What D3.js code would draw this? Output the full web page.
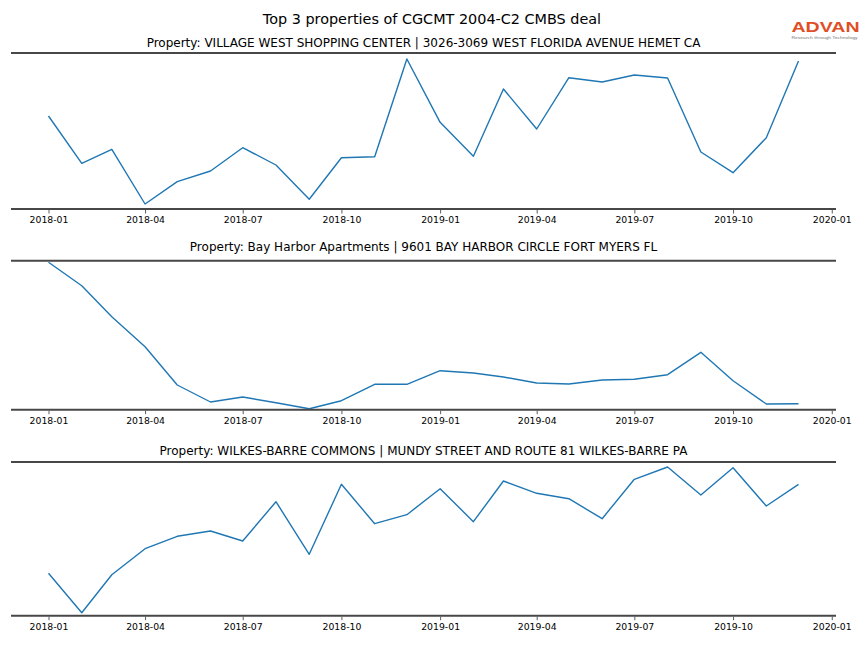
<!DOCTYPE html>
<html>
<head>
<meta charset="utf-8">
<script src="https://cdn.jsdelivr.net/npm/d3@7"></script>
<style>
  html, body { margin: 0; padding: 0; background: #fff; }
  svg { display: block; font-family: "DejaVu Sans", sans-serif; }
</style>
</head>
<body>
<svg id="chart" width="864" height="648"></svg>
<script>
// ---- Data ----
const months = ["2018-01","2018-02","2018-03","2018-04","2018-05","2018-06","2018-07","2018-08","2018-09","2018-10","2018-11","2018-12",
                "2019-01","2019-02","2019-03","2019-04","2019-05","2019-06","2019-07","2019-08","2019-09","2019-10","2019-11","2019-12"];

const titles = [
  "Property: VILLAGE WEST SHOPPING CENTER | 3026-3069 WEST FLORIDA AVENUE HEMET CA",
  "Property: Bay Harbor Apartments | 9601 BAY HARBOR CIRCLE FORT MYERS FL",
  "Property: WILKES-BARRE COMMONS | MUNDY STREET AND ROUTE 81 WILKES-BARRE PA"
];

const villageWest = [930, 457, 597, 50, 273, 380, 613, 440, 97, 513, 523, 1500,
                     867, 527, 1200, 800, 1313, 1270, 1340, 1310, 570, 363, 713, 1480];
const bayHarbor   = [1474, 1240, 930, 630, 247, 77, 127, 70, 10, 90, 254, 254,
                     390, 367, 327, 267, 257, 297, 304, 350, 574, 290, 57, 60];
const wilkesBarre = [424, 30, 410, 670, 794, 847, 747, 1140, 614, 1314, 920, 1010,
                     1270, 940, 1347, 1224, 1170, 970, 1364, 1487, 1207, 1480, 1097, 1314];

const series = [villageWest, bayHarbor, wilkesBarre];
const yLimits = [[0, 1560], [0, 1490], [0, 1537]];

const tickLabels = ["2018-01","2018-04","2018-07","2018-10","2019-01","2019-04","2019-07","2019-10","2020-01"];

const mainTitle = "Top 3 properties of CGCMT 2004-C2 CMBS deal";

// ---- Layout ----
const svg = d3.select("#chart");
const parse = d3.timeParse("%Y-%m");
const dates = months.map(parse);
const tickDates = tickLabels.map(parse);

const ext = d3.extent(dates);
const pad = (ext[1] - ext[0]) * 0.05;
const x = d3.scaleTime()
  .domain([new Date(+ext[0] - pad), new Date(+ext[1] + pad)])
  .range([11, 836]);

const panels = [
  {top: 53,    bottom: 209,   titleY: 46.5},
  {top: 260.7, bottom: 409.7, titleY: 250.5},
  {top: 462,   bottom: 615.7, titleY: 454.5}
];

const spineColor = "#474747";
const lineColor = "#1f77b4";

svg.append("text")
  .attr("x", 432).attr("y", 24)
  .attr("text-anchor", "middle")
  .attr("font-size", 14.4)
  .attr("fill", "#000")
  .text(mainTitle);

panels.forEach((p, i) => {
  const g = svg.append("g");
  const y = d3.scaleLinear().domain(yLimits[i]).range([p.bottom, p.top]);

  g.append("text")
    .attr("x", (x.range()[0] + x.range()[1]) / 2)
    .attr("y", p.titleY)
    .attr("text-anchor", "middle")
    .attr("font-size", 12)
    .attr("fill", "#000")
    .text(titles[i]);

  const line = d3.line()
    .x((d, j) => x(dates[j]))
    .y(d => y(d));
  g.append("path")
    .datum(series[i])
    .attr("d", line)
    .attr("fill", "none")
    .attr("stroke", lineColor)
    .attr("stroke-width", 1.4)
    .attr("stroke-linejoin", "round");

  const axis = d3.axisBottom(x)
    .tickValues(tickDates)
    .tickFormat(d3.timeFormat("%Y-%m"))
    .tickSize(3.5)
    .tickPadding(3);
  const ax = g.append("g")
    .attr("transform", `translate(0,${p.bottom + 1})`)
    .call(axis);
  ax.select(".domain").remove();
  ax.selectAll(".tick line").attr("stroke", "#333").attr("stroke-width", 0.8);
  ax.selectAll(".tick text")
    .attr("font-family", "DejaVu Sans, sans-serif")
    .attr("font-size", 9.3)
    .attr("fill", "#000");

  [p.top, p.bottom].forEach(yy => {
    g.append("line")
      .attr("x1", x.range()[0]).attr("x2", x.range()[1])
      .attr("y1", yy).attr("y2", yy)
      .attr("stroke", spineColor)
      .attr("stroke-width", 2);
  });
});

// logo
const logo = svg.append("g");
logo.append("text")
  .attr("x", 825.5).attr("y", 31.5)
  .attr("text-anchor", "middle")
  .attr("font-family", "Liberation Sans, Arial, sans-serif")
  .attr("font-weight", "bold")
  .attr("font-size", 15.5)
  .attr("fill", "#e04e26")
  .attr("textLength", 68)
  .attr("lengthAdjust", "spacingAndGlyphs")
  .text("ADVAN");
logo.append("text")
  .attr("x", 824.5).attr("y", 39.3)
  .attr("text-anchor", "middle")
  .attr("font-family", "Liberation Sans, Arial, sans-serif")
  .attr("font-size", 3.8)
  .attr("fill", "#777")
  .attr("textLength", 66)
  .attr("lengthAdjust", "spacingAndGlyphs")
  .text("Research through Technology");
</script>
</body>
</html>
